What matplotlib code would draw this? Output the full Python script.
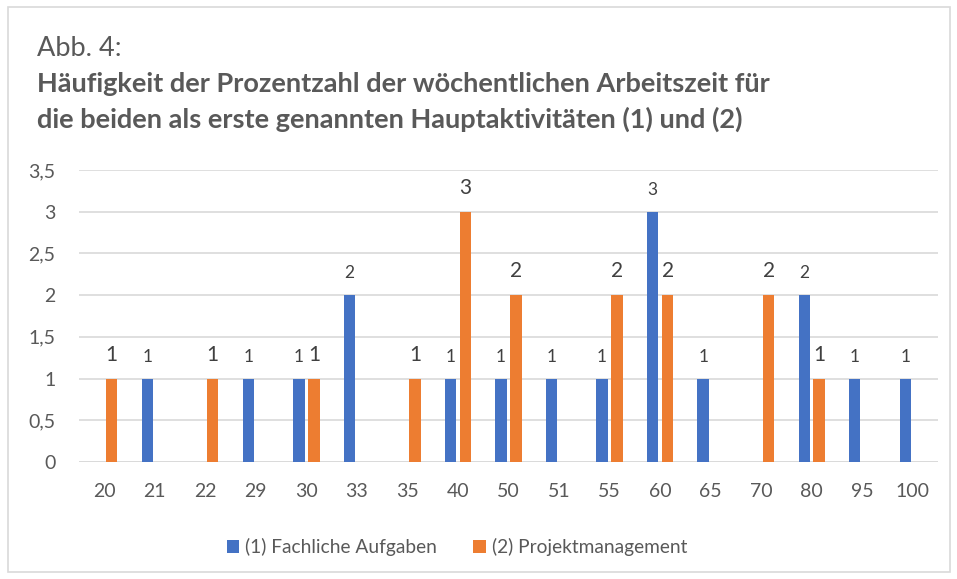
import matplotlib
matplotlib.use("Agg")
import matplotlib.pyplot as plt
import numpy as np
from matplotlib.patches import Rectangle

categories = ["20", "21", "22", "29", "30", "33", "35", "40", "50", "51", "55", "60", "65", "70", "80", "95", "100"]
fachlich = [0, 1, 0, 1, 1, 2, 0, 1, 1, 1, 1, 3, 1, 0, 2, 1, 1]
projekt = [1, 0, 1, 0, 1, 0, 1, 3, 2, 0, 2, 2, 0, 2, 1, 0, 0]
yticks = [0, 0.5, 1, 1.5, 2, 2.5, 3, 3.5]
ytick_labels = ["0", "0,5", "1", "1,5", "2", "2,5", "3", "3,5"]

plt.rcParams['font.family'] = ['Lato', 'DejaVu Sans']
txt = '#595959'
blue = '#4472C4'
orange = '#ED7D31'

fig = plt.figure(figsize=(9.57, 5.79), dpi=100)
fig.patches.append(Rectangle((8/957, 7/579), 942/957, 565/579, transform=fig.transFigure,
                             fill=False, edgecolor='#d9d9d9', linewidth=1.2))

ax = fig.add_axes([79/957, 1-462/579, 859/957, 292/579])
x = np.arange(len(categories))
w = 0.225
off = 0.148
b1 = ax.bar(x - off, fachlich, w, color=blue, label='(1) Fachliche Aufgaben', zorder=3)
b2 = ax.bar(x + off, projekt, w, color=orange, label='(2) Projektmanagement', zorder=3)

for xi, v in zip(x, fachlich):
    if v:
        ax.annotate(str(v), (xi - off, v), xytext=(0, 10), textcoords='offset points',
                    ha='center', va='bottom', fontsize=12.5, color='#404040')
for xi, v in zip(x, projekt):
    if v:
        ax.annotate(str(v), (xi + off, v), xytext=(0, 10), textcoords='offset points',
                    ha='center', va='bottom', fontsize=15, color='#404040')

ax.set_xlim(-0.5, len(categories) - 0.5)
ax.set_ylim(0, 3.5)
ax.set_yticks(yticks)
ax.set_yticklabels(ytick_labels)
ax.set_xticks(x)
ax.set_xticklabels(categories)
ax.tick_params(axis='both', length=0, labelsize=14, colors=txt)
ax.tick_params(axis='x', pad=15)
ax.tick_params(axis='y', pad=17)
ax.grid(axis='y', color='#d9d9d9', linewidth=1.2, zorder=0)
for s in ax.spines.values():
    s.set_visible(False)
ax.axhline(0, color='#d9d9d9', linewidth=1.2, zorder=2)

fig.text(37/957, 1-48/579, "Abb. 4:", fontsize=19.5, color=txt, va='center', ha='left')
fig.text(37/957, 1-84/579, "Häufigkeit der Prozentzahl der wöchentlichen Arbeitszeit für",
         fontsize=19.5, fontweight='bold', color=txt, va='center', ha='left')
fig.text(37/957, 1-119/579, "die beiden als erste genannten Hauptaktivitäten (1) und (2)",
         fontsize=19.5, fontweight='bold', color=txt, va='center', ha='left')

leg = fig.legend(handles=[b1, b2], loc='center', bbox_to_anchor=(457/957, 1-547/579), ncol=2,
                 frameon=False, fontsize=13.8, handlelength=0.65, handleheight=0.65,
                 handletextpad=0.3, columnspacing=1.9)
for t in leg.get_texts():
    t.set_color(txt)

fig.savefig("out.png", dpi=100)
